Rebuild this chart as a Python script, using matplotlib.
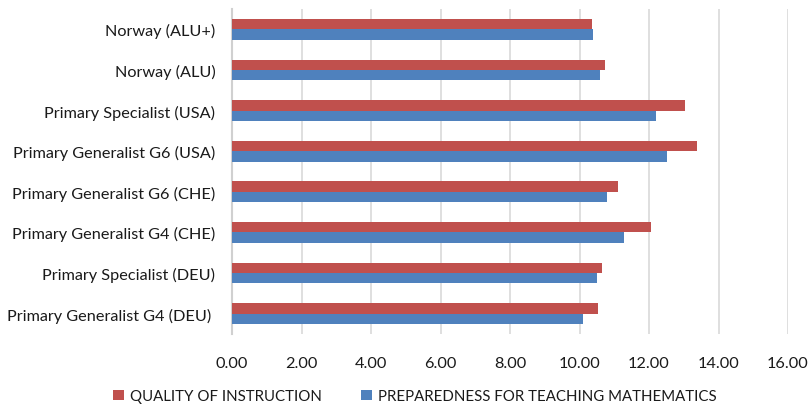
import numpy as np
import matplotlib.pyplot as plt

# categories listed top to bottom as in the chart
groups = [
    "Norway (ALU+)",
    "Norway (ALU)",
    "Primary Specialist (USA)",
    "Primary Generalist G6 (USA)",
    "Primary Generalist G6 (CHE)",
    "Primary Generalist G4 (CHE)",
    "Primary Specialist (DEU)",
    "Primary Generalist G4 (DEU) ",
]
quality = [10.37, 10.74, 13.04, 13.38, 11.12, 12.05, 10.64, 10.53]
preparedness = [10.40, 10.58, 12.19, 12.53, 10.79, 11.28, 10.49, 10.10]
xticks = [0, 2, 4, 6, 8, 10, 12, 14, 16]

plt.rcParams['font.family'] = ['Lato', 'DejaVu Sans']
text_col = '#1a1a1a'

fig = plt.figure(figsize=(8.1, 4.06), dpi=100)
ax = fig.add_axes([232 / 810, 1 - 335 / 406, 556 / 810, 325 / 406])

y = np.arange(len(groups))
h = 0.254
ax.barh(y - h / 2, quality, height=h, color='#C0504D', label='QUALITY OF INSTRUCTION', zorder=3)
ax.barh(y + h / 2, preparedness, height=h, color='#4F81BD',
        label='PREPAREDNESS FOR TEACHING MATHEMATICS', zorder=3)

ax.set_ylim(len(groups) - 0.5, -0.5)
ax.set_xlim(0, 16)
ax.set_xticks(xticks)
ax.set_xticklabels([f"{v:.2f}" for v in xticks])
ax.set_yticks(y)
ax.set_yticklabels(groups)

ax.grid(axis='x', color='#d9d9d9', linewidth=1.2, zorder=0)
for s in ['top', 'right', 'bottom']:
    ax.spines[s].set_visible(False)
ax.spines['left'].set_color('#d0d0d0')
ax.spines['left'].set_linewidth(1.5)
ax.tick_params(axis='both', length=0, labelsize=11.7, colors=text_col)
ax.tick_params(axis='x', pad=16)
ax.tick_params(axis='y', pad=12)

fig.legend(loc='center', bbox_to_anchor=(415 / 810, 1 - 397 / 406), ncol=2, frameon=False,
           fontsize=10.8, handlelength=0.7, handleheight=0.7, handletextpad=0.45,
           columnspacing=2.6, labelcolor=text_col)

fig.savefig('out.png', dpi=100)
